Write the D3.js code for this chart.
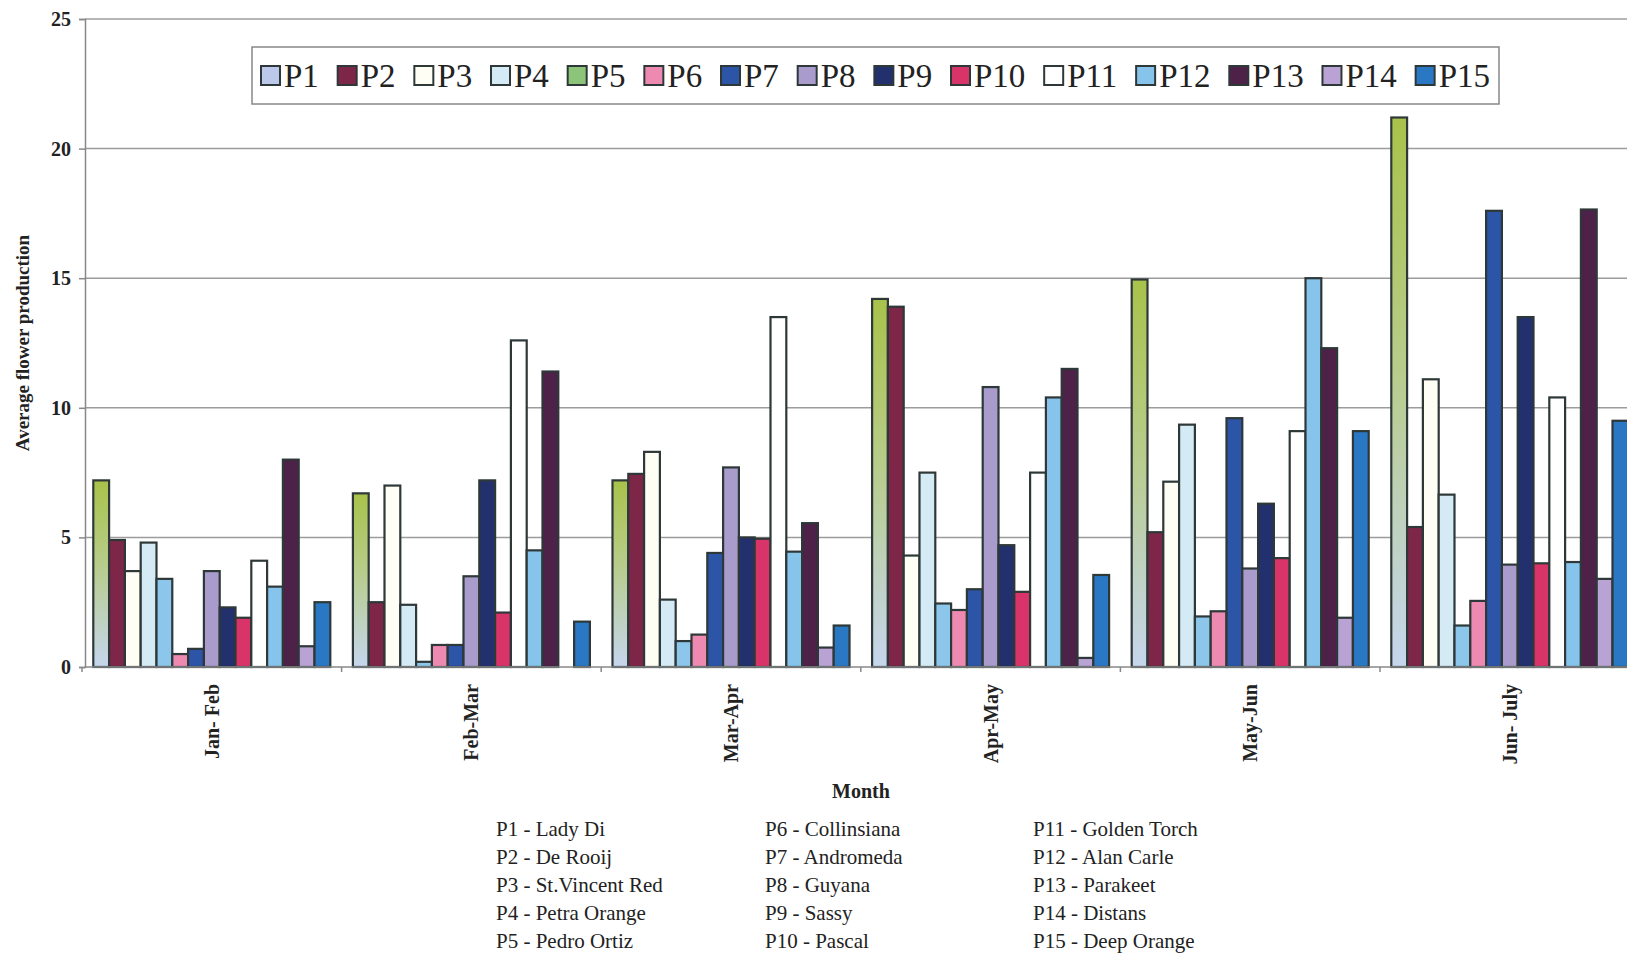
<!DOCTYPE html>
<html lang="en">
    <head>
        <meta charset="UTF-8" />
        <title>Average flower production</title>
        <style>
            body { margin: 0; background: #fff; }
        </style>
    </head>
    <body>
        <div id="main"></div>
        <script src="https://cdn.jsdelivr.net/npm/d3@7/dist/d3.min.js"></script>
        <script>
            // data
            const months = ["Jan- Feb", "Feb-Mar", "Mar-Apr", "Apr-May", "May-Jun", "Jun- July"]
            const seriesNames = ["P1", "P2", "P3", "P4", "P5", "P6", "P7", "P8", "P9", "P10", "P11", "P12", "P13", "P14", "P15"]
            const cultivars = ["Lady Di", "De Rooij", "St.Vincent Red", "Petra Orange", "Pedro Ortiz",
                "Collinsiana", "Andromeda", "Guyana", "Sassy", "Pascal",
                "Golden Torch", "Alan Carle", "Parakeet", "Distans", "Deep Orange"]
            const yTicks = [0, 5, 10, 15, 20, 25]

            const p1 = [7.2, 6.7, 7.2, 14.2, 14.95, 21.2]
            const p2 = [4.9, 2.5, 7.45, 13.9, 5.2, 5.4]
            const p3 = [3.7, 7.0, 8.3, 4.3, 7.15, 11.1]
            const p4 = [4.8, 2.4, 2.6, 7.5, 9.35, 6.65]
            const p5 = [3.4, 0.2, 1.0, 2.45, 1.95, 1.6]
            const p6 = [0.5, 0.85, 1.25, 2.2, 2.15, 2.55]
            const p7 = [0.7, 0.85, 4.4, 3.0, 9.6, 17.6]
            const p8 = [3.7, 3.5, 7.7, 10.8, 3.8, 3.95]
            const p9 = [2.3, 7.2, 5.0, 4.7, 6.3, 13.5]
            const p10 = [1.9, 2.1, 4.95, 2.9, 4.2, 4.0]
            const p11 = [4.1, 12.6, 13.5, 7.5, 9.1, 10.4]
            const p12 = [3.1, 4.5, 4.45, 10.4, 15.0, 4.05]
            const p13 = [8.0, 11.4, 5.55, 11.5, 12.3, 17.65]
            const p14 = [0.8, 0, 0.75, 0.35, 1.9, 3.4]
            const p15 = [2.5, 1.75, 1.6, 3.55, 9.1, 9.5]
            const seriesValues = [p1, p2, p3, p4, p5, p6, p7, p8, p9, p10, p11, p12, p13, p14, p15]

            const colors = ["url(#gradP1)", "#7d2648", "#fffef4", "#d4ebf6", "#8cc6ea",
                "#ee8ab2", "#2c55a8", "#a99ccc", "#23306e", "#d8346a",
                "#ffffff", "#86c4ec", "#4e2148", "#b9a2d4", "#2a78c4"]

            const svgWidth = 1627
            const svgHeight = 955
            const fontFamily = "Liberation Serif, Times New Roman, serif"
            const axisX = 85
            const zeroY = 667
            const topY = 19
            const step = 259.6

            main()
            function main() {
                const svg = d3
                    .select("#main")
                    .append("svg")
                    .attr("width", svgWidth)
                    .attr("height", svgHeight)
                    .attr("font-family", fontFamily)

                const defs = svg.append("defs")
                const grad = defs
                    .append("linearGradient")
                    .attr("id", "gradP1")
                    .attr("x1", 0).attr("y1", 0).attr("x2", 0).attr("y2", 1)
                grad.append("stop").attr("offset", "0%").attr("stop-color", "#a9c24a")
                grad.append("stop").attr("offset", "45%").attr("stop-color", "#b7cc8a")
                grad.append("stop").attr("offset", "100%").attr("stop-color", "#c6d6ee")

                const y = d3.scaleLinear().domain([0, 25]).range([zeroY, topY])
                const x0 = d3
                    .scaleBand()
                    .domain(months)
                    .range([82, 82 + months.length * step])
                    .paddingInner(0.087)
                    .paddingOuter(0.0435)
                const x1 = d3
                    .scaleBand()
                    .domain(seriesNames)
                    .range([0, x0.bandwidth()])

                // gridlines
                svg.append("g")
                    .selectAll("line")
                    .data(yTicks.filter((d) => d > 0))
                    .enter()
                    .append("line")
                    .attr("x1", axisX)
                    .attr("x2", svgWidth)
                    .attr("y1", (d) => y(d))
                    .attr("y2", (d) => y(d))
                    .attr("stroke", "#9c9c9c")
                    .attr("stroke-width", 1.5)

                // bars
                const seriesGroups = svg
                    .append("g")
                    .selectAll("g")
                    .data(seriesNames)
                    .enter()
                    .append("g")
                    .attr("fill", (d, i) => colors[i])

                seriesGroups
                    .selectAll("rect")
                    .data((d, i) => seriesValues[i].map((v, j) => ({ name: d, month: months[j], value: v })))
                    .enter()
                    .filter((d) => d.value > 0)
                    .append("rect")
                    .attr("x", (d) => x0(d.month) + x1(d.name))
                    .attr("y", (d) => y(d.value))
                    .attr("width", x1.bandwidth())
                    .attr("height", (d) => zeroY - y(d.value))
                    .attr("stroke", "#2e3838")
                    .attr("stroke-width", 2.2)

                // y axis
                const yAxis = svg
                    .append("g")
                    .attr("transform", `translate(${axisX},0)`)
                    .call(d3.axisLeft(y).tickValues(yTicks).tickSize(6).tickPadding(8))
                yAxis.select(".domain").attr("stroke", "#888").attr("stroke-width", 1.5)
                yAxis.selectAll(".tick line").attr("stroke", "#888").attr("stroke-width", 1.5)
                yAxis.selectAll(".tick text")
                    .attr("font-size", 20)
                    .attr("font-weight", 700)
                    .attr("font-family", fontFamily)
                    .attr("fill", "#222")

                // x axis
                svg.append("line")
                    .attr("x1", axisX)
                    .attr("x2", svgWidth)
                    .attr("y1", zeroY)
                    .attr("y2", zeroY)
                    .attr("stroke", "#888")
                    .attr("stroke-width", 1.5)
                svg.append("g")
                    .selectAll("line")
                    .data(months)
                    .enter()
                    .append("line")
                    .attr("x1", (d) => x0(d) - (step - x0.bandwidth()) / 2)
                    .attr("x2", (d) => x0(d) - (step - x0.bandwidth()) / 2)
                    .attr("y1", zeroY)
                    .attr("y2", zeroY + 5)
                    .attr("stroke", "#888")
                    .attr("stroke-width", 1.5)
                svg.append("g")
                    .selectAll("text")
                    .data(months)
                    .enter()
                    .append("text")
                    .attr("transform", (d) => `translate(${x0(d) + x0.bandwidth() / 2 + 7},684) rotate(-90)`)
                    .attr("text-anchor", "end")
                    .attr("font-family", fontFamily)
                    .attr("font-size", 20)
                    .attr("font-weight", 700)
                    .attr("fill", "#222")
                    .text((d) => d)

                // axis titles
                svg.append("text")
                    .attr("transform", "translate(29,343) rotate(-90)")
                    .attr("text-anchor", "middle")
                    .attr("font-family", fontFamily)
                    .attr("font-size", 19)
                    .attr("font-weight", 700)
                    .attr("fill", "#222")
                    .text("Average flower production")
                svg.append("text")
                    .attr("x", 861)
                    .attr("y", 798)
                    .attr("text-anchor", "middle")
                    .attr("font-family", fontFamily)
                    .attr("font-size", 20)
                    .attr("font-weight", 700)
                    .attr("fill", "#222")
                    .text("Month")

                drawLegend(svg)
                drawNames(svg)
            }

            function drawLegend(svg) {
                const boxLeft = 252
                const boxRight = 1499
                const g = svg.append("g")
                g.append("rect")
                    .attr("x", boxLeft)
                    .attr("y", 47)
                    .attr("width", boxRight - boxLeft)
                    .attr("height", 57)
                    .attr("fill", "#fff")
                    .attr("stroke", "#888")
                    .attr("stroke-width", 1.5)

                const items = g
                    .selectAll("g.item")
                    .data(seriesNames)
                    .enter()
                    .append("g")
                    .classed("item", true)
                items.append("rect")
                    .attr("x", 0)
                    .attr("y", 66)
                    .attr("width", 19)
                    .attr("height", 19)
                    .attr("fill", (d, i) => (i === 0 ? "#bcc8ea" : i === 4 ? "#8cc47a" : colors[i]))
                    .attr("stroke", "#2e3838")
                    .attr("stroke-width", 2)
                const labels = items
                    .append("text")
                    .attr("x", 23)
                    .attr("y", 87)
                    .attr("font-family", fontFamily)
                    .attr("font-size", 33)
                    .attr("fill", "#222")
                    .text((d) => d)

                const widths = labels.nodes().map((n) => 23 + n.getComputedTextLength())
                const total = d3.sum(widths)
                const gap = (boxRight - 9 - (boxLeft + 9) - total) / (widths.length - 1)
                let pos = boxLeft + 9
                items.attr("transform", (d, i) => {
                    const t = `translate(${pos},0)`
                    pos += widths[i] + gap
                    return t
                })
            }

            function drawNames(svg) {
                const columnX = [496, 765, 1033]
                svg.append("g")
                    .selectAll("text")
                    .data(seriesNames)
                    .enter()
                    .append("text")
                    .attr("x", (d, i) => columnX[Math.floor(i / 5)])
                    .attr("y", (d, i) => 836 + (i % 5) * 28)
                    .attr("font-family", fontFamily)
                    .attr("font-size", 21)
                    .attr("fill", "#222")
                    .text((d, i) => `${d} - ${cultivars[i]}`)
            }
        </script>
    </body>
</html>
